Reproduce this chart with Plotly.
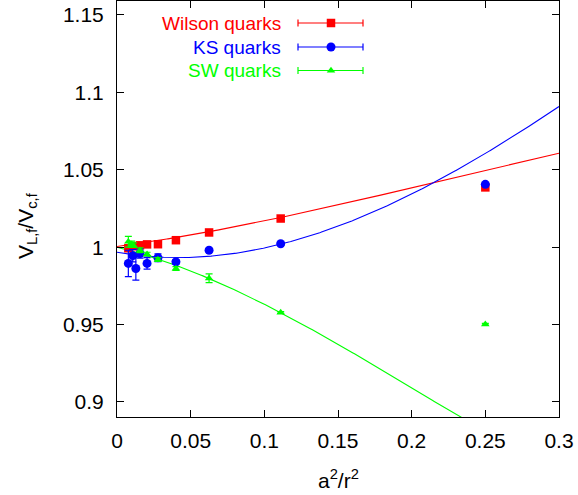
import numpy as np
import plotly.graph_objects as go

# a^2/r^2 values and potential ratios for each discretisation
wilson_x = [0.0077, 0.0111, 0.0156, 0.0204, 0.0278, 0.0400, 0.0625, 0.1111, 0.2500]
wilson_y = [0.9993, 1.0006, 1.0012, 1.0018, 1.0019, 1.0045, 1.0095, 1.0185, 1.0386]
wilson_err = [0.0008, 0.0006, 0.0005, 0.0005, 0.0005, 0.0005, 0.0005, 0.0005, 0.0005]

ks_x = [0.0077, 0.0107, 0.0128, 0.0156, 0.0204, 0.0278, 0.0400, 0.0625, 0.1111, 0.2500]
ks_y = [0.9895, 0.9945, 0.9862, 0.9959, 0.9895, 0.9932, 0.9905, 0.9980, 1.0022, 1.0406]
ks_err = [0.0085, 0.0040, 0.0075, 0.0030, 0.0037, 0.0025, 0.0015, 0.0010, 0.0008, 0.0008]

sw_x = [0.0077, 0.0100, 0.0111, 0.0156, 0.0204, 0.0278, 0.0400, 0.0625, 0.1111, 0.2500]
sw_y = [1.0035, 1.0019, 1.0013, 0.9980, 0.9955, 0.9920, 0.9862, 0.9799, 0.9578, 0.9502]
sw_err = [0.0035, 0.0020, 0.0015, 0.0015, 0.0012, 0.0012, 0.0012, 0.0028, 0.0006, 0.0006]

# polynomial fit coefficients c0 + c1 x + c2 x^2 + c3 x^3
wilson_fit = [1.0004, 0.12947, 0.4249, -0.6215]
ks_fit = [0.9967, -0.16822, 2.1319, -1.7504]
sw_fit = [1.0, -0.23135, -1.64, 2.6264]

x_ticks = [0, 0.05, 0.1, 0.15, 0.2, 0.25, 0.3]
x_tick_text = ["0", "0.05", "0.1", "0.15", "0.2", "0.25", "0.3"]
y_ticks = [0.9, 0.95, 1.0, 1.05, 1.1, 1.15]
y_tick_text = ["0.9", "0.95", "1", "1.05", "1.1", "1.15"]

RED, BLUE, GREEN = "#ff0000", "#0000ff", "#00ff00"
FONT = "Liberation Sans, Arial, sans-serif"

fig = go.Figure()

xf = np.linspace(0, 0.3, 400)


def poly(c, x):
    return c[0] + c[1] * x + c[2] * x ** 2 + c[3] * x ** 3


for coeffs, col in [(wilson_fit, RED), (ks_fit, BLUE), (sw_fit, GREEN)]:
    fig.add_trace(go.Scatter(x=xf, y=poly(coeffs, xf), mode="lines",
                             line=dict(color=col, width=1.1),
                             showlegend=False, hoverinfo="skip"))

series = [
    (wilson_x, wilson_y, wilson_err, RED, "square", 8.5),
    (ks_x, ks_y, ks_err, BLUE, "circle", 9),
    (sw_x, sw_y, sw_err, GREEN, "triangle-up", 7.5),
]
for xs, ys, es, col, sym, sz in series:
    fig.add_trace(go.Scatter(
        x=xs, y=ys, mode="markers",
        marker=dict(color=col, symbol=sym, size=sz, line=dict(width=0)),
        error_y=dict(type="data", array=es, color=col, thickness=1.2, width=3.5),
        showlegend=False))

# key drawn at the top left of the frame
plot_l, plot_r, plot_t, plot_b = 117, 559, 1, 417
W, H = plot_r - plot_l, plot_b - plot_t


def px(x):
    return (x - plot_l) / W


def py(y):
    return 1 - (y - plot_t) / H


names = ["Wilson quarks", "KS quarks", "SW quarks"]
rows = [23, 47, 70.5]
for (xs, ys, es, col, sym, sz), name, ry in zip(series, names, rows):
    fig.add_annotation(x=px(283), y=py(ry), xref="paper", yref="paper",
                       text=name, showarrow=False, xanchor="right",
                       yanchor="middle", font=dict(family=FONT, size=19, color=col))
    fig.add_shape(type="line", xref="paper", yref="paper",
                  x0=px(298), x1=px(363), y0=py(ry), y1=py(ry),
                  line=dict(color=col, width=1.2))
    for cx in (298, 363):
        fig.add_shape(type="line", xref="paper", yref="paper",
                      x0=px(cx), x1=px(cx), y0=py(ry - 3.5), y1=py(ry + 3.5),
                      line=dict(color=col, width=1.2))
    fig.add_trace(go.Scatter(x=[px(331)], y=[py(ry)], xaxis="x2", yaxis="y2",
                             mode="markers",
                             marker=dict(color=col, symbol=sym, size=sz),
                             showlegend=False, hoverinfo="skip"))

axis_common = dict(showgrid=False, zeroline=False, showline=True,
                   linecolor="black", linewidth=1, mirror="ticks",
                   ticks="inside", ticklen=7, tickcolor="black",
                   tickfont=dict(family=FONT, size=21, color="black"))

fig.update_layout(
    width=578, height=495,
    margin=dict(l=plot_l, r=578 - plot_r, t=plot_t, b=495 - plot_b),
    paper_bgcolor="white", plot_bgcolor="white",
    showlegend=False,
    xaxis=dict(range=[0, 0.3], tickvals=x_ticks, ticktext=x_tick_text,
               ticklabelstandoff=5, **axis_common),
    yaxis=dict(range=[0.8903, 1.159], tickvals=y_ticks, ticktext=y_tick_text,
               ticklabelstandoff=8, **axis_common),
    xaxis2=dict(range=[0, 1], overlaying="x", visible=False),
    yaxis2=dict(range=[0, 1], overlaying="y", visible=False),
)

fig.add_annotation(x=0.5, y=py(479), xref="paper", yref="paper",
                   text="a<sup>2</sup>/r<sup>2</sup>", showarrow=False,
                   xanchor="center", yanchor="middle",
                   font=dict(family=FONT, size=21, color="black"))
fig.add_annotation(x=px(27), y=py(226), xref="paper", yref="paper",
                   text="V<sub>L,f</sub>/V<sub>c,f</sub>", showarrow=False,
                   textangle=-90, xanchor="center", yanchor="middle",
                   font=dict(family=FONT, size=21, color="black"))

fig.write_html("out.html")
